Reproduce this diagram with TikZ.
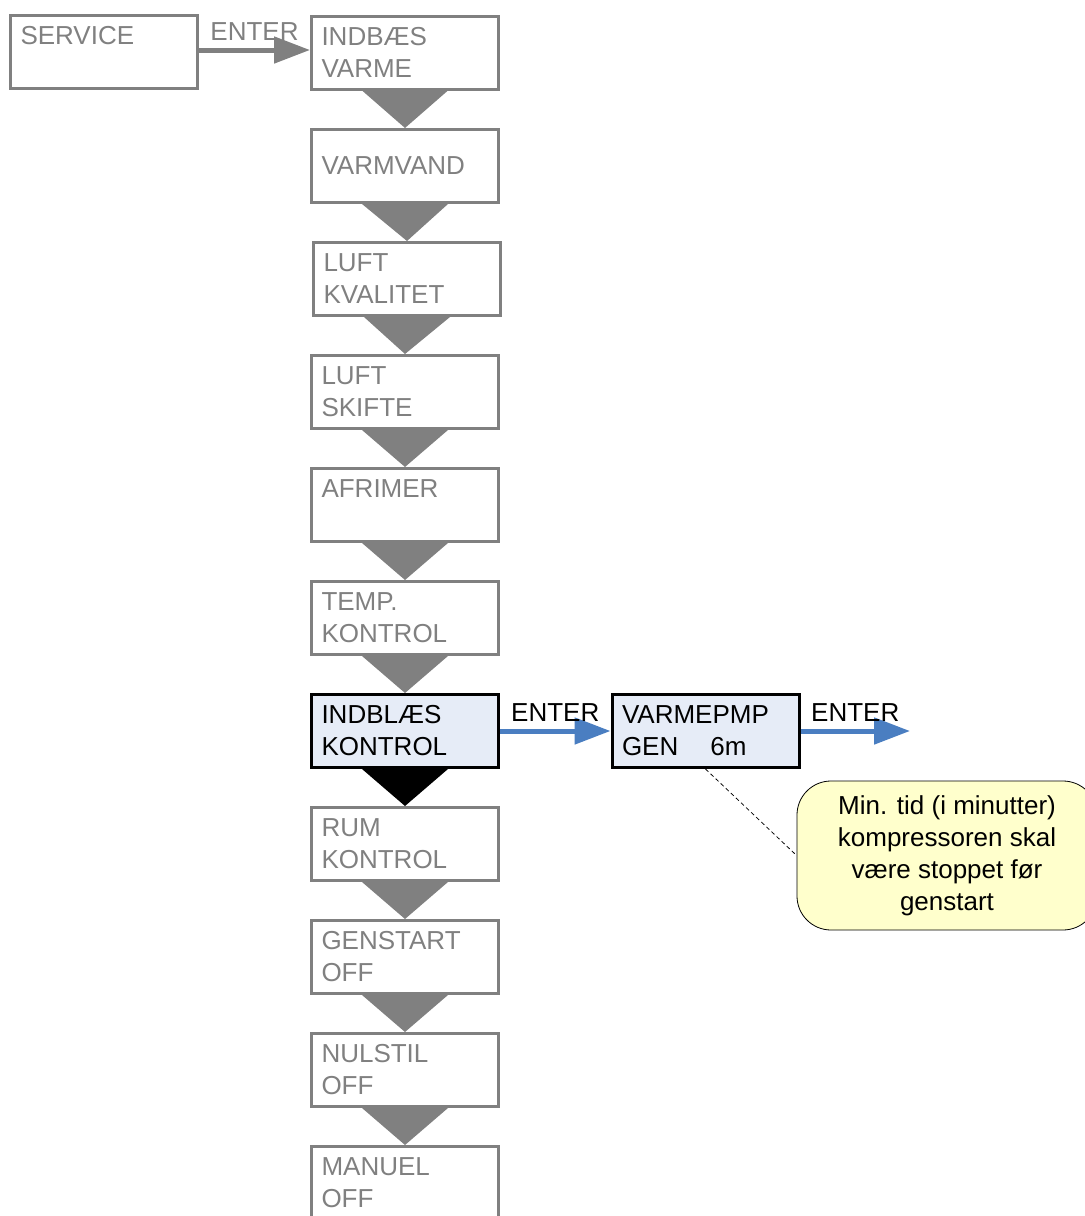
\documentclass[tikz,border=0pt]{standalone}
\usepackage{fontspec}
\setmainfont{Liberation Sans}
\usepackage{xcolor}
\usepackage{tikz}
\usetikzlibrary{arrows.meta}
\usetikzlibrary{calc}
\definecolor{menugray}{RGB}{128,128,128}
\definecolor{enterblue}{RGB}{74,126,193}
\definecolor{activefill}{RGB}{230,236,247}
\definecolor{notefill}{RGB}{255,255,204}

\begin{document}
\begin{tikzpicture}[x=0.5pt,y=-0.5pt,font=\fontsize{13}{16}\selectfont,
    menubox/.style={draw=menugray,line width=1.5pt,text=menugray,minimum width=93.5pt,minimum height=36.5pt,text width=83.5pt,align=left,inner xsep=4.75pt},
    activebox/.style={menubox,draw=black,text=black,fill=activefill},
    downtip/.style={fill=menugray},
    enterarrow/.style={line width=2.5pt,-{Triangle[length=18pt,width=13pt]}}]
        \useasboundingbox (0,0) rectangle (1084,1216);
        \node[menubox] (service) at (104,51.5) {SERVICE\\~};
        \node[menubox] (indvarme) at (405,52.5) {INDBÆS\\VARME};
        \node[menubox] (varmvand) at (405,166) {VARMVAND};
        \node[menubox] (luftkval) at (407,279) {LUFT\\KVALITET};
        \node[menubox] (luftskift) at (405,392) {LUFT\\SKIFTE};
        \node[menubox] (afrimer) at (405,505) {AFRIMER\\~};
        \node[menubox] (tempkontrol) at (405,618) {TEMP.\\KONTROL};
        \node[activebox] (indkontrol) at (405,731) {INDBLÆS\\KONTROL};
        \node[menubox] (rumkontrol) at (405,844) {RUM\\KONTROL};
        \node[menubox] (genstart) at (405,957) {GENSTART\\OFF};
        \node[menubox] (nulstil) at (405,1070) {NULSTIL\\OFF};
        \node[menubox] (manuel) at (405,1183) {MANUEL\\OFF};
        \node[activebox] (varmepmp) at (705.5,731) {VARMEPMP\\GEN\hspace{16pt}6m};
        \coordinate (serviceout) at ($(service.east)+(0,-1.5)$);
        \coordinate (nextmenu) at (910,731);
        \node[draw=black,fill=notefill,rounded corners=17pt,minimum width=150pt,minimum height=74.5pt,align=center] (note) at (947,855.5) {Min. tid (i minutter)\\kompressoren skal\\være stoppet før\\genstart};
        \fill[downtip] ($(indvarme.south)+(-43,0)$) -- ($(indvarme.south)+(43,0)$) -- (varmvand.north) -- cycle;
        \fill[downtip] ($(varmvand.south)+(-43,0)$) -- ($(varmvand.south)+(43,0)$) -- (luftkval.north) -- cycle;
        \fill[downtip] ($(luftkval.south)+(-43,0)$) -- ($(luftkval.south)+(43,0)$) -- (luftskift.north) -- cycle;
        \fill[downtip] ($(luftskift.south)+(-43,0)$) -- ($(luftskift.south)+(43,0)$) -- (afrimer.north) -- cycle;
        \fill[downtip] ($(afrimer.south)+(-43,0)$) -- ($(afrimer.south)+(43,0)$) -- (tempkontrol.north) -- cycle;
        \fill[downtip] ($(tempkontrol.south)+(-43,0)$) -- ($(tempkontrol.south)+(43,0)$) -- (indkontrol.north) -- cycle;
        \fill[downtip,fill=black] ($(indkontrol.south)+(-43,0)$) -- ($(indkontrol.south)+(43,0)$) -- (rumkontrol.north) -- cycle;
        \fill[downtip] ($(rumkontrol.south)+(-43,0)$) -- ($(rumkontrol.south)+(43,0)$) -- (genstart.north) -- cycle;
        \fill[downtip] ($(genstart.south)+(-43,0)$) -- ($(genstart.south)+(43,0)$) -- (nulstil.north) -- cycle;
        \fill[downtip] ($(nulstil.south)+(-43,0)$) -- ($(nulstil.south)+(43,0)$) -- (manuel.north) -- cycle;
        \draw[enterarrow,menugray] (serviceout) -- node[above,text=menugray]{ENTER} (serviceout -| indvarme.west);
        \draw[enterarrow,enterblue] (indkontrol.east) -- node[above,text=black]{ENTER} (varmepmp.west);
        \draw[enterarrow,enterblue] (varmepmp.east) -- node[above,text=black]{ENTER} (nextmenu);
        \draw[dashed,dash pattern=on 2pt off 1.5pt,thin] (varmepmp.south) -- (note.west);
    \end{tikzpicture}
\end{document}
